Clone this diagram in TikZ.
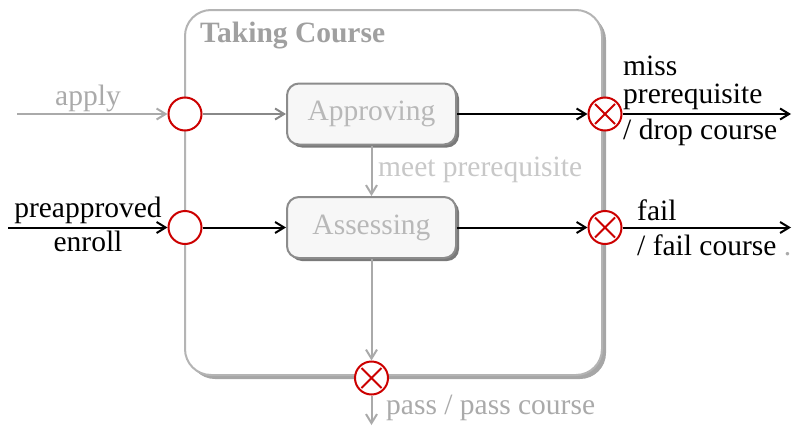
\documentclass[tikz,border=0pt]{standalone}
\usepackage{fontspec}
\setmainfont{Liberation Serif}
\usetikzlibrary{arrows.meta,shadows}

\definecolor{frameline}{HTML}{B4B4B4}
\definecolor{frameshade}{HTML}{A6A6A6}
\definecolor{titlegray}{HTML}{A0A0A0}
\definecolor{boxline}{HTML}{8C8C8C}
\definecolor{boxshade}{HTML}{7A7A7A}
\definecolor{boxfill}{HTML}{F7F7F7}
\definecolor{statetext}{HTML}{B8B8B8}
\definecolor{softgray}{HTML}{AAAAAA}
\definecolor{midgray}{HTML}{888888}
\definecolor{paletext}{HTML}{C8C8C8}
\definecolor{pred}{HTML}{CC0000}

\tikzset{
  lbl/.style={anchor=base west, inner sep=0pt},
  clbl/.style={anchor=base, inner sep=0pt},
  stbox/.style={draw=boxline, fill=boxfill, line width=2pt, rounded corners=12pt,
    minimum width=169pt, minimum height=61pt, inner sep=0pt, text=statetext,
    general shadow={fill=boxshade, shadow xshift=3pt, shadow yshift=-3pt}},
  framebox/.style={draw=frameline, fill=white, line width=2pt, rounded corners=26pt,
    minimum width=417pt, minimum height=365pt, inner sep=0pt,
    general shadow={fill=frameshade, shadow xshift=4pt, shadow yshift=-4pt}},
  entrypt/.style={circle, draw=pred, fill=white, line width=2pt, minimum size=33pt, inner sep=0pt},
  exitpt/.style={entrypt, path picture={
    \draw[pred, line width=2pt]
      ([shift={(-10pt,-10pt)}]path picture bounding box.center) -- ([shift={(10pt,10pt)}]path picture bounding box.center)
      ([shift={(-10pt,10pt)}]path picture bounding box.center) -- ([shift={(10pt,-10pt)}]path picture bounding box.center);}},
  arr/.style={-{Straight Barb[length=9pt,width=11pt]}, line width=2pt},
}

\begin{document}
\begin{tikzpicture}[x=1pt, y=-1pt, font=\fontsize{29.5}{33}\selectfont]
\useasboundingbox (0,0) rectangle (796,426);

% composite state
\node[framebox] (course) at (393.5,192.5) {};
\node[lbl, text=titlegray, font=\fontsize{29.5}{33}\selectfont\bfseries] (title) at (200,42) {Taking Course};

% substates
\node[stbox] (appr) at (371.5,114) {Approving};
\node[stbox] (asse) at (371.5,227.5) {Assessing};

% entry and exit points
\node[entrypt] (in1) at (185,114) {};
\node[entrypt] (in2) at (185,227.5) {};
\node[exitpt] (out1) at (605,114) {};
\node[exitpt] (out2) at (605,227.5) {};
\node[exitpt] (out3) at (371.5,378) {};

% free ends
\coordinate (applystart) at (17,114);
\coordinate (enrollstart) at (8,227.5);
\coordinate (dropend) at (791,114);
\coordinate (failend) at (791,227.5);
\coordinate (passend) at (371.5,425);

% transitions
\draw[arr, softgray] (applystart) -- (in1);
\draw[arr, midgray] (in1) -- (appr);
\draw[arr] (enrollstart) -- (in2);
\draw[arr] (in2) -- (asse);
\draw[arr] (appr) -- (out1);
\draw[arr] (out1) -- (dropend);
\draw[arr, softgray] (appr) -- (asse);
\draw[arr] (asse) -- (out2);
\draw[arr] (out2) -- (failend);
\draw[arr, softgray] (asse) -- (out3);
\draw[arr, softgray] (out3) -- (passend);

% labels
\node[clbl, text=softgray] (lapply) at (88,105) {apply};
\node[clbl] (lpre) at (88,217) {preapproved};
\node[clbl] (lenroll) at (88,251) {enroll};
\node[lbl, text=paletext] (lmeet) at (378,176) {meet prerequisite};
\node[lbl] (lmiss) at (623,75) {miss};
\node[lbl] (lprereq) at (623,103) {prerequisite};
\node[lbl] (ldrop) at (623,139) {/ drop course};
\node[lbl] (lfail) at (637,220) {fail};
\node[lbl] (lfailc) at (637,255) {/ fail course \textcolor{softgray}{.}};
\node[lbl, text=softgray] (lpass) at (386,414) {pass / pass course};
\end{tikzpicture}
\end{document}
